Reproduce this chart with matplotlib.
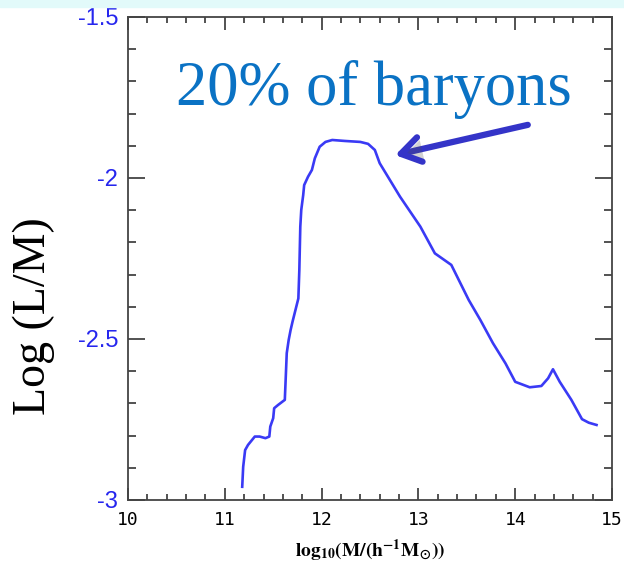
import matplotlib
matplotlib.use("Agg")
import matplotlib.pyplot as plt
import matplotlib.patheffects as pe
from matplotlib.patches import Rectangle
from matplotlib.ticker import MultipleLocator

# halo mass (log10 M / h^-1 Msun) and log mass-to-light ratio
log_mass = [11.18, 11.19, 11.21, 11.24, 11.31, 11.36, 11.42, 11.46, 11.47, 11.50,
            11.51, 11.55, 11.62, 11.63, 11.64, 11.66, 11.68, 11.70, 11.73, 11.76,
            11.77, 11.78, 11.79, 11.81, 11.82, 11.86, 11.90, 11.93, 11.98, 12.04,
            12.11, 12.24, 12.40, 12.48, 12.55, 12.60, 12.81, 13.02, 13.17, 13.34,
            13.52, 13.64, 13.77, 13.90, 14.00, 14.15, 14.27, 14.34, 14.39, 14.46,
            14.58, 14.69, 14.76, 14.84]
log_lm = [-2.959, -2.897, -2.845, -2.829, -2.803, -2.803, -2.808, -2.803, -2.772, -2.746,
          -2.715, -2.705, -2.689, -2.617, -2.544, -2.503, -2.472, -2.446, -2.410, -2.374,
          -2.286, -2.151, -2.099, -2.053, -2.022, -1.996, -1.975, -1.939, -1.903, -1.888,
          -1.882, -1.885, -1.888, -1.894, -1.913, -1.954, -2.058, -2.151, -2.234, -2.270,
          -2.379, -2.441, -2.513, -2.576, -2.633, -2.650, -2.646, -2.622, -2.594, -2.633,
          -2.689, -2.749, -2.760, -2.767]

x_ticks = [10, 11, 12, 13, 14, 15]
y_ticks = [-1.5, -2, -2.5, -3]
y_tick_labels = ["-1.5", "-2", "-2.5", "-3"]

plt.rcParams["mathtext.fontset"] = "stix"

fig = plt.figure(figsize=(6.24, 5.72), dpi=100)
fig.patches.append(Rectangle((0, 0.988), 1, 0.012, transform=fig.transFigure,
                             color="#e2fafa", zorder=0))
ax = fig.add_axes([0.2051, 0.1259, 0.7757, 0.8444])

ax.plot(log_mass, log_lm, color="#3a3af5", lw=1.9, solid_joinstyle="round")

ax.set_xlim(10, 15)
ax.set_ylim(-3, -1.5)
ax.set_xticks(x_ticks)
ax.set_xticklabels([str(t) for t in x_ticks], family="DejaVu Sans Mono", fontsize=13)
ax.set_yticks(y_ticks)
ax.set_yticklabels(y_tick_labels, family="Liberation Sans", fontsize=17, color="#2626ee")
ax.xaxis.set_minor_locator(MultipleLocator(0.2))
ax.yaxis.set_minor_locator(MultipleLocator(0.1))

ax.tick_params(which="both", direction="in", top=True, right=True, color="#444444", width=1.3)
ax.tick_params(axis="x", which="major", length=9, pad=8)
ax.tick_params(axis="x", which="minor", length=4.5)
ax.tick_params(axis="y", which="major", length=12, pad=7)
ax.tick_params(axis="y", which="minor", length=6)
for s in ax.spines.values():
    s.set_color("#444444")
    s.set_linewidth(1.3)

ax.set_xlabel(r"$\mathbf{log_{10}(M/(h^{-1}M_{\odot}))}$", fontsize=14, labelpad=6)
ax.set_ylabel("Log (L/M)", family="Liberation Serif", fontsize=33)
ax.yaxis.set_label_coords(-0.15, 0.38)

ax.text(0.508, 0.818, "20% of baryons", transform=ax.transAxes, family="Liberation Serif",
        fontsize=45, color="#0a72c4", ha="center", va="baseline")

shadow = [pe.SimplePatchShadow(offset=(2, -2), alpha=0.25), pe.Normal()]
ax.annotate("", xy=(12.76, -1.929), xytext=(14.13, -1.835),
            arrowprops=dict(arrowstyle="->,head_length=0.7,head_width=0.45",
                            mutation_scale=20, color="#3434c8", lw=4.5,
                            shrinkA=0, shrinkB=0, path_effects=shadow))

fig.savefig("out.png", dpi=100)
